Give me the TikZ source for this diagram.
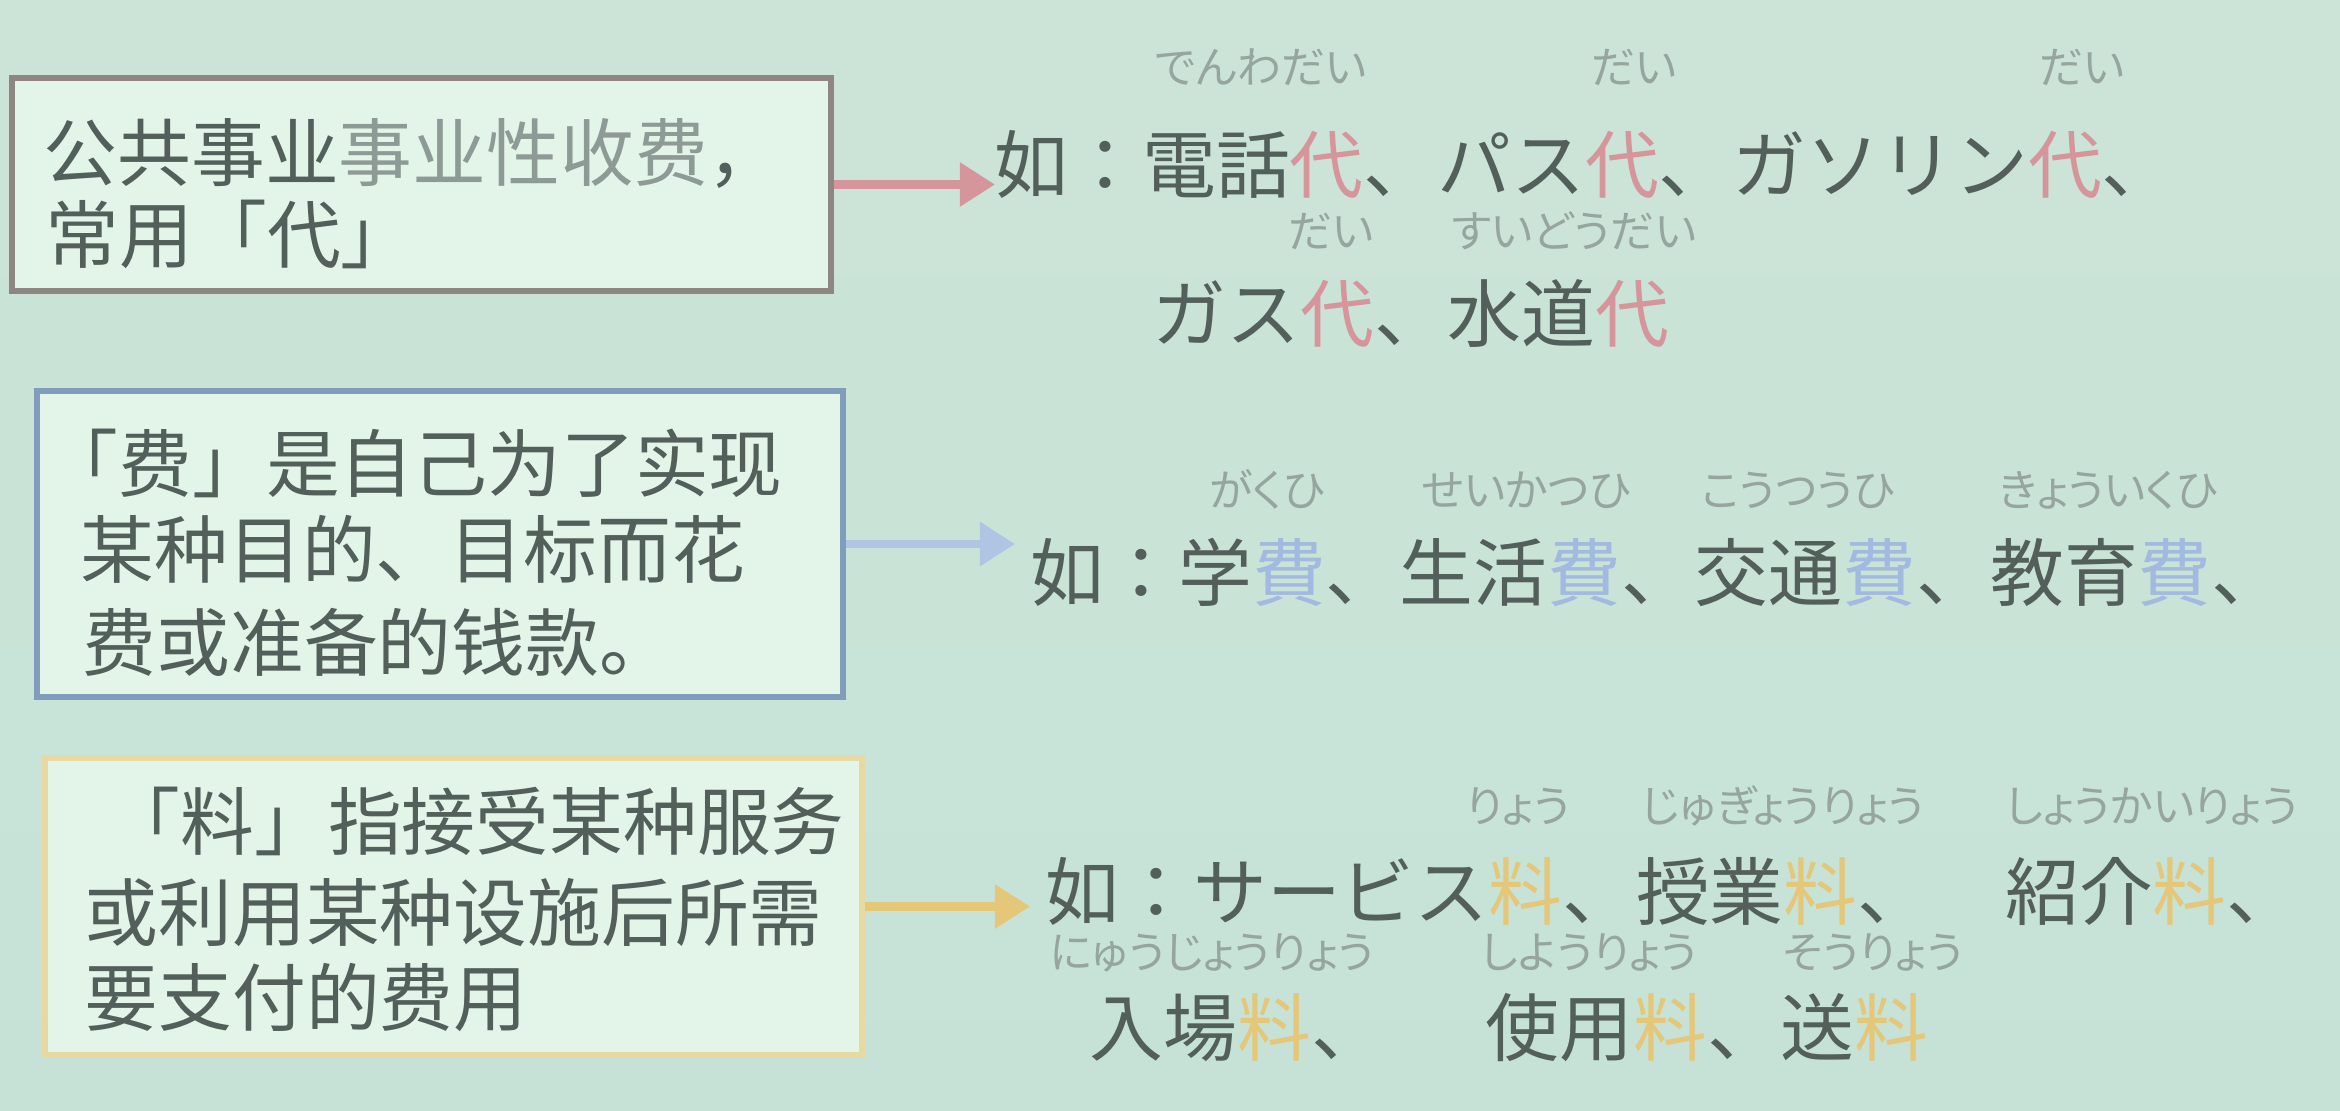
\documentclass[tikz,border=0pt]{standalone}
\usepackage{fontspec}
\usetikzlibrary{arrows.meta}
\newfontfamily\zhfont{Noto Sans CJK SC}
\newfontfamily\jpfont{Noto Sans CJK JP}
\newfontfamily\rubyfont[RawFeature={+palt}]{Noto Sans CJK JP}

\definecolor{bgmid}{HTML}{D7F1E5}
\definecolor{bgtop}{HTML}{CCE4D7}
\definecolor{bgbot}{HTML}{C6E2D7}
\definecolor{ink}{HTML}{535F5A}
\definecolor{inkfade}{HTML}{8E9A95}
\definecolor{rubyink}{HTML}{97A59F}
\definecolor{daic}{HTML}{D6959B}
\definecolor{hic}{HTML}{A2BADF}
\definecolor{ryoc}{HTML}{E4C779}
\definecolor{boxa}{HTML}{8F8682}
\definecolor{boxb}{HTML}{819DBC}
\definecolor{boxc}{HTML}{E6D9A2}
\definecolor{fillbox}{HTML}{E3F5E9}

\newcommand{\dai}{\textcolor{daic}{代}}
\newcommand{\hiyo}{\textcolor{hic}{費}}
\newcommand{\ryo}{\textcolor{ryoc}{料}}

\begin{document}
\begin{tikzpicture}[x=0.1mm,y=-0.1mm,
  boxframe/.style={draw=#1, line width=1.7pt, fill=fillbox, inner sep=0pt},
  zhline/.style={font=\zhfont\fontsize{21pt}{25pt}\selectfont, text=ink,
    inner sep=0pt, anchor=west, text height=18.5pt, text depth=2.5pt},
  jpline/.style={font=\jpfont\fontsize{21pt}{25pt}\selectfont, text=ink,
    inner sep=0pt, anchor=west, text height=18.5pt, text depth=2.5pt},
  ruby/.style={font=\rubyfont\fontsize{12.5pt}{14pt}\selectfont, text=rubyink,
    inner sep=0pt, anchor=center, text height=11pt, text depth=1.5pt},
  arrowline/.style={draw=#1, line width=2.4pt, -{Triangle[length=10pt,width=12pt]}}]

% background
\shade[top color=bgtop, middle color=bgmid, bottom color=bgbot] (0,0) rectangle (2340,1110);
\useasboundingbox (0,0) rectangle (2340,1110);

% left boxes
\node[boxframe=boxa, minimum width=81.9mm, minimum height=21.3mm] (b1) at (421.5,184.5) {};
\node[boxframe=boxb, minimum width=80.6mm, minimum height=30.6mm] (b2) at (440,544) {};
\node[boxframe=boxc, minimum width=81.7mm, minimum height=29.7mm] (b3) at (453.5,906.5) {};

% box texts
\node[zhline] (b1a) at (43,152) {公共事业\textcolor{inkfade}{事业性收费}，};
\node[zhline] (b1b) at (45,234) {常用「代」};

\node[zhline] (b2a) at (44,463) {「费」是自己为了实现};
\node[zhline] (b2b) at (80,549) {某种目的、目标而花};
\node[zhline] (b2c) at (82,642) {费或准备的钱款。};

\node[zhline] (b3a) at (106,821) {「料」指接受某种服务};
\node[zhline] (b3b) at (84,912) {或利用某种设施后所需};
\node[zhline] (b3c) at (84,997) {要支付的费用};

% example lines
\node[jpline] (r1a) at (994,164) {如：電話\dai、パス\dai、ガソリン\dai、};
\node[jpline] (r1b) at (1152,313) {ガス\dai、水道\dai};
\node[jpline] (r2a) at (1030,572) {如：学\hiyo、生活\hiyo、交通\hiyo、教育\hiyo、};
\node[jpline] (r3a) at (1045,891) {如：サービス\ryo、授業\ryo、　紹介\ryo、};
\node[jpline] (r3b) at (1089,1027) {入場\ryo、};
\node[jpline] (r3c) at (1485,1027) {使用\ryo、送\ryo};

% readings
\node[ruby] (k1) at (1261,67) {でんわだい};
\node[ruby] (k2) at (1634,67) {だい};
\node[ruby] (k3) at (2082,67) {だい};
\node[ruby] (k4) at (1331,231) {だい};
\node[ruby] (k5) at (1574,231) {すいどうだい};

\node[ruby] (k6) at (1267,490) {がくひ};
\node[ruby] (k7) at (1526,490) {せいかつひ};
\node[ruby] (k8) at (1798,490) {こうつうひ};
\node[ruby] (k9) at (2108,490) {きょういくひ};

\node[ruby] (k10) at (1518,806) {りょう};
\node[ruby] (k11) at (1783,806) {じゅぎょうりょう};
\node[ruby] (k12) at (2152,806) {しょうかいりょう};
\node[ruby] (k13) at (1212,952) {にゅうじょうりょう};
\node[ruby] (k14) at (1589,952) {しようりょう};
\node[ruby] (k15) at (1873,952) {そうりょう};

% arrows from the boxes to the examples
\coordinate (t1) at (995,185);
\coordinate (t2) at (1015,546);
\coordinate (t3) at (1030,904);
\draw[arrowline=daic] (b1.east) -- (b1.east -| t1);
\draw[arrowline=hic!85!white] (b2.east) -- (b2.east -| t2);
\draw[arrowline=ryoc] (b3.east) -- (b3.east -| t3);
\end{tikzpicture}
\end{document}
